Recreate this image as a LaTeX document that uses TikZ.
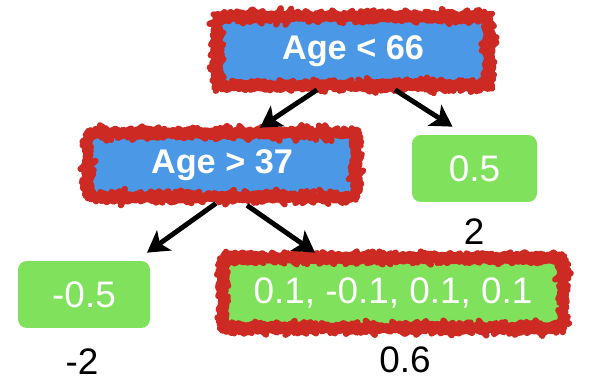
\documentclass[tikz,border=0pt]{standalone}
\usepackage{fontspec}
\setmainfont{Liberation Sans}
\usepackage{tikz}
\usetikzlibrary{arrows.meta,calc,decorations.pathmorphing}
\definecolor{TreeBlue}{HTML}{4A98E6}
\definecolor{LeafGreen}{HTML}{80E25C}
\definecolor{SketchRed}{HTML}{CC2A22}

\tikzset{
  box/.style={rounded corners=5pt, inner sep=0pt, text=white},
  test/.style={box, fill=TreeBlue, font=\bfseries\fontsize{19.5}{22}\selectfont},
  leaf/.style={box, fill=LeafGreen, font=\fontsize{21}{24}\selectfont},
  marked/.style={postaction={draw=SketchRed, line width=3.6pt, line join=round, decorate,
      decoration={random steps, segment length=0.8pt, amplitude=0.35pt}}},
  edge/.style={line width=2.8pt, -{Stealth[length=12pt,width=14pt,inset=3pt]}},
  score/.style={font=\fontsize{21}{24}\selectfont}
}

\begin{document}
\begin{tikzpicture}[x=0.02cm,y=-0.02cm]
    \useasboundingbox (0,0) rectangle (590,388);

    % splits
    \node[test, marked, minimum width=5.44cm, minimum height=1.38cm] (root) at (353,51) {Age < 66};
    \node[test, marked, minimum width=5.36cm, minimum height=1.28cm] (inner) at (222,165) {Age > 37};

    % leaves
    \node[leaf, minimum width=2.5cm, minimum height=1.34cm] (leafR) at (474.5,168.5) {0.5};
    \node[leaf, minimum width=2.64cm, minimum height=1.34cm] (leafA) at (84,294.5) {-0.5};
    \node[leaf, marked, minimum width=6.8cm, minimum height=1.4cm] (leafB) at (393,293) {0.1, -0.1, 0.1, 0.1};

    % output values
    \node[score] (valR) at (474,232) {2};
    \node[score] (valA) at (82,362) {-2};
    \node[score] (valB) at (405,360) {0.6};

    \draw[edge] ($(root.south)+(-36,4)$) -- ($(inner.north)+(38,-5)$);
    \draw[edge] ($(root.south)+(42,4)$) -- ($(leafR.north)+(-22,-8)$);
    \draw[edge] ($(inner.south)+(-6,6)$) -- ($(leafA.north)+(63,-8)$);
    \draw[edge] ($(inner.south)+(25,8)$) -- ($(leafB.north)+(-78,-5)$);
\end{tikzpicture}
\end{document}
